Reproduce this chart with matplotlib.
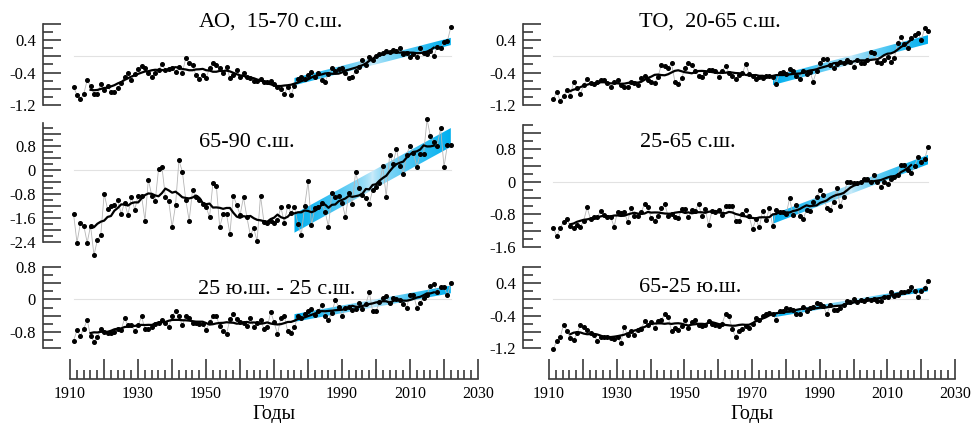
import numpy as np
import matplotlib
matplotlib.use('Agg')
import matplotlib.pyplot as plt
from matplotlib.patches import Polygon
from matplotlib.ticker import MultipleLocator, FuncFormatter

plt.rcParams['font.family'] = ['Liberation Serif', 'DejaVu Serif']

# annual anomalies 1911-2022
years = np.arange(1911, 2023)

ao_15_70 = [
    -0.76, -0.95, -1.05, -0.93, -0.58, -0.74, -0.92, -0.92, -0.68, -0.82,
    -0.73, -0.87, -0.87, -0.78, -0.66, -0.51, -0.40, -0.58, -0.43, -0.32,
    -0.24, -0.29, -0.40, -0.51, -0.40, -0.33, -0.20, -0.33, -0.32, -0.29,
    -0.38, -0.25, -0.40, -0.05, -0.16, -0.22, -0.46, -0.56, -0.46, -0.53,
    -0.29, -0.16, -0.21, -0.29, -0.42, -0.25, -0.54, -0.46, -0.33, -0.51,
    -0.40, -0.50, -0.54, -0.60, -0.60, -0.56, -0.64, -0.64, -0.60, -0.68,
    -0.76, -0.80, -0.93, -0.76, -0.95, -0.72, -0.56, -0.51, -0.56, -0.46,
    -0.38, -0.51, -0.40, -0.58, -0.62, -0.43, -0.29, -0.35, -0.32, -0.29,
    -0.40, -0.54, -0.51, -0.35, -0.25, -0.09, -0.21, -0.01, -0.09, 0.00,
    0.06, 0.09, 0.14, 0.11, 0.16, 0.14, 0.20, 0.07, 0.09, -0.02,
    0.06, -0.02, 0.20, 0.09, 0.06, 0.14, 0.00, 0.24, 0.20, 0.36,
    0.38, 0.72]

ao_65_90 = [
    -1.48, -2.42, -1.78, -1.86, -2.42, -1.86, -2.84, -2.33, -2.17, -0.80,
    -1.31, -1.20, -1.17, -1.02, -1.47, -1.09, -1.50, -0.91, -1.33, -0.86,
    -0.86, -1.69, -0.33, -0.86, -1.05, 0.02, 0.09, -0.89, -1.05, -1.91,
    -1.17, 0.31, -0.06, -0.99, -1.69, -0.69, -0.91, -1.02, -1.13, -1.23,
    -1.58, -0.44, -0.53, -1.91, -1.47, -1.47, -2.13, -0.86, -1.17, -1.50,
    -0.91, -1.58, -2.17, -1.95, -2.36, -0.86, -1.73, -1.78, -1.69, -1.78,
    -1.67, -1.24, -1.76, -1.20, -1.44, -1.24, -1.80, -2.17, -1.20, -0.39,
    -1.83, -1.28, -1.24, -1.09, -1.39, -1.89, -0.76, -0.89, -0.87, -1.09,
    -1.58, -0.76, -1.13, -0.06, -0.61, -0.85, -0.94, -1.13, -0.67, -0.56,
    -0.44, 0.11, -0.91, 0.50, 0.20, 0.69, 0.13, -0.13, 0.50, 0.80,
    0.56, 0.09, 0.53, 0.53, 1.67, 1.11, 0.91, 0.80, 1.39, 0.09,
    0.83, 0.83]

ao_25s_25n = [
    -1.02, -0.76, -0.90, -0.72, -0.51, -0.91, -1.04, -0.94, -0.72, -0.80,
    -0.82, -0.82, -0.80, -0.72, -0.75, -0.47, -0.64, -0.64, -0.78, -0.64,
    -0.42, -0.73, -0.73, -0.67, -0.61, -0.59, -0.51, -0.59, -0.67, -0.41,
    -0.29, -0.41, -0.64, -0.41, -0.45, -0.59, -0.59, -0.61, -0.61, -0.75,
    -0.56, -0.42, -0.42, -0.65, -0.78, -0.86, -0.49, -0.37, -0.49, -0.57,
    -0.59, -0.65, -0.47, -0.67, -0.59, -0.51, -0.72, -0.69, -0.31, -0.56,
    -0.86, -0.45, -0.42, -0.78, -0.82, -0.69, -0.42, -0.45, -0.37, -0.29,
    -0.24, -0.39, -0.29, -0.15, -0.41, -0.51, -0.33, -0.02, -0.18, -0.41,
    -0.20, -0.18, -0.26, -0.23, -0.08, -0.23, -0.12, 0.18, -0.29, -0.29,
    -0.07, 0.04, 0.08, -0.08, 0.04, 0.02, -0.02, -0.12, -0.20, 0.12,
    0.12, -0.20, -0.08, 0.04, 0.12, 0.34, 0.39, 0.18, 0.31, 0.31,
    0.10, 0.40]

po_20_65 = [
    -1.05, -0.88, -1.09, -0.99, -0.82, -0.97, -0.64, -0.78, -0.93, -0.70,
    -0.56, -0.66, -0.68, -0.62, -0.58, -0.58, -0.66, -0.76, -0.64, -0.58,
    -0.70, -0.76, -0.76, -0.64, -0.66, -0.70, -0.54, -0.48, -0.58, -0.64,
    -0.66, -0.50, -0.21, -0.24, -0.29, -0.17, -0.62, -0.68, -0.54, -0.29,
    -0.17, -0.21, -0.35, -0.48, -0.50, -0.42, -0.33, -0.33, -0.35, -0.51,
    -0.35, -0.24, -0.40, -0.48, -0.56, -0.46, -0.42, -0.19, -0.43, -0.48,
    -0.56, -0.51, -0.54, -0.48, -0.48, -0.51, -0.68, -0.40, -0.38, -0.43,
    -0.32, -0.35, -0.48, -0.56, -0.35, -0.43, -0.38, -0.62, -0.35, -0.17,
    -0.07, -0.07, -0.21, -0.29, -0.19, -0.13, -0.16, -0.09, -0.13, -0.25,
    -0.09, -0.17, -0.17, -0.09, 0.11, 0.09, -0.13, -0.16, -0.09, -0.01,
    -0.13, -0.05, 0.33, 0.47, 0.30, 0.20, 0.45, 0.52, 0.58, 0.40,
    0.69, 0.63]

po_25_65 = [
    -1.14, -1.33, -1.14, -0.98, -0.92, -1.08, -1.14, -1.06, -1.10, -0.95,
    -0.62, -0.92, -0.87, -0.87, -0.71, -0.81, -0.87, -0.87, -1.10, -0.73,
    -0.77, -0.73, -0.98, -0.65, -0.84, -0.85, -0.75, -0.54, -0.61, -0.89,
    -0.95, -0.84, -0.65, -0.54, -0.84, -0.79, -0.87, -0.89, -0.67, -0.67,
    -0.87, -0.69, -0.71, -0.54, -0.85, -0.67, -1.06, -0.71, -0.75, -0.69,
    -0.81, -0.59, -0.59, -0.59, -0.95, -0.95, -0.79, -0.69, -0.85, -1.16,
    -0.92, -1.12, -0.71, -0.94, -0.65, -1.09, -0.69, -0.73, -0.73, -0.79,
    -0.40, -0.82, -0.57, -0.84, -0.92, -0.68, -0.71, -0.49, -0.38, -0.20,
    -0.32, -0.64, -0.68, -0.49, -0.16, -0.59, -0.36, -0.01, -0.01, -0.03,
    -0.02, 0.01, 0.07, 0.07, 0.01, 0.17, 0.01, -0.13, 0.00, -0.05,
    0.06, 0.13, 0.16, 0.42, 0.42, 0.30, 0.22, 0.38, 0.61, 0.50,
    0.56, 0.86]

po_65s_25s = [
    -1.23, -1.02, -0.94, -0.63, -0.77, -0.96, -1.01, -0.84, -0.63, -0.67,
    -0.75, -0.82, -0.88, -1.02, -0.94, -0.94, -0.92, -0.96, -0.99, -0.94,
    -1.07, -0.69, -0.88, -0.77, -0.88, -0.75, -0.74, -0.54, -0.63, -0.57,
    -0.71, -0.54, -0.50, -0.37, -0.43, -0.77, -0.71, -0.75, -0.65, -0.52,
    -0.71, -0.57, -0.50, -0.63, -0.65, -0.63, -0.54, -0.60, -0.63, -0.65,
    -0.60, -0.35, -0.40, -0.74, -0.92, -0.77, -0.74, -0.65, -0.71, -0.60,
    -0.46, -0.50, -0.42, -0.37, -0.33, -0.37, -0.50, -0.29, -0.29, -0.21,
    -0.23, -0.25, -0.35, -0.37, -0.18, -0.29, -0.21, -0.18, -0.10, -0.12,
    -0.16, -0.37, -0.15, -0.25, -0.25, -0.21, -0.15, -0.04, -0.06, 0.00,
    -0.06, -0.01, -0.04, 0.00, -0.01, 0.02, -0.04, -0.04, 0.05, 0.07,
    0.19, 0.09, 0.11, 0.19, 0.19, 0.21, 0.30, 0.21, 0.05, 0.21,
    0.27, 0.45]

series = [ao_15_70, ao_65_90, ao_25s_25n, po_20_65, po_25_65, po_65s_25s]
titles = ['АО,  15-70 с.ш.', '65-90 с.ш.', '25 ю.ш. - 25 с.ш.',
          'ТО,  20-65 с.ш.', '25-65 с.ш.', '65-25 ю.ш.']
ylims = [(-1.2, 0.8), (-2.4, 1.55), (-1.2, 0.8),
         (-1.2, 0.8), (-1.6, 1.4), (-1.2, 0.8)]
ylabels = [[0.4, -0.4, -1.2], [0.8, 0, -0.8, -1.6, -2.4], [0.8, 0, -0.8],
           [0.4, -0.4, -1.2], [0.8, 0, -0.8, -1.6], [0.4, -0.4, -1.2]]
trend_start = 1976

# layout in pixels of the 973x423 picture
W, H = 973, 423
cols = [(43, 478), (523, 955)]        # left spine .. year 2030
rows = [[(24, 105), (123, 242), (267, 348)],
        [(24, 105), (125, 247), (267, 348)]]
title_xy = [(271, 22), (247, 142), (277, 289), (710, 22), (688, 142), (690, 288)]
xaxis_px = [(70, 478), (549, 955)]
axis_color = '#3a3a3a'
cyan = np.array([0.0, 0.69, 0.94])
pale = np.array([0.82, 0.93, 0.98])


def px_rect(x0, y0, x1, y1):
    return [x0 / W, 1 - y1 / H, (x1 - x0) / W, (y1 - y0) / H]


def tick_text(val, labs):
    if not any(abs(val - l) < 1e-6 for l in labs):
        return ''
    return '0' if abs(val) < 1e-6 else '%g' % round(val, 1)


def trend_band(ax, x, y):
    m = x >= trend_start
    k, b = np.polyfit(x[m], y[m], 1)
    half = 0.7 * np.std(y[m] - (k * x[m] + b))
    x0, x1 = x[m][0], x[m][-1]
    verts = [(x0, k * x0 + b - half), (x1, k * x1 + b - half),
             (x1, k * x1 + b + half), (x0, k * x0 + b + half)]
    poly = Polygon(verts, closed=True, facecolor='none', edgecolor='none')
    ax.add_patch(poly)
    t = np.linspace(0, 1, 256)
    w = np.abs(2 * t - 1) ** 0.6
    img = (pale[None, :] * (1 - w[:, None]) + cyan[None, :] * w[:, None])[None, :, :]
    ys = [v[1] for v in verts]
    im = ax.imshow(img, extent=[x0, x1, min(ys), max(ys)], aspect='auto',
                   origin='lower', zorder=1, interpolation='bilinear')
    im.set_clip_path(poly)


fig = plt.figure(figsize=(W / 100, H / 100), dpi=100)

for i, vals in enumerate(series):
    c, r = divmod(i, 3)
    x0, x1 = cols[c]
    y0, y1 = rows[c][r]
    ax = fig.add_axes(px_rect(x0, y0, x1, y1))
    ax.patch.set_alpha(0)
    v = np.array(vals)

    ax.plot([years[0], years[-1]], [0, 0], color='#e2e2e2', lw=0.8, zorder=0.5)
    trend_band(ax, years, v)
    ax.plot(years, v, color='#b5b5b5', lw=0.6, zorder=2, clip_on=False)
    ax.plot(years, v, 'o', color='black', ms=2.6, zorder=3, clip_on=False)
    smooth = np.convolve(v, np.ones(11) / 11, mode='valid')
    ax.plot(years[5:-5], smooth, color='black', lw=1.6, zorder=4)

    ax.set_xlim(1902, 2030)
    ax.set_ylim(*ylims[i])
    for s in ['top', 'right', 'bottom']:
        ax.spines[s].set_visible(False)
    ax.spines['left'].set_color(axis_color)
    ax.spines['left'].set_linewidth(1.2)
    ax.set_xticks([])
    ax.yaxis.set_major_locator(MultipleLocator(0.4))
    ax.yaxis.set_minor_locator(MultipleLocator(0.2))
    ax.yaxis.set_major_formatter(FuncFormatter(
        lambda val, pos, labs=ylabels[i]: tick_text(val, labs)))
    ax.tick_params(axis='y', which='major', direction='in', length=13, width=1.2,
                   color=axis_color, labelsize=12, pad=5)
    ax.tick_params(axis='y', which='minor', direction='in', length=7, width=1.2,
                   color=axis_color)

    tx, ty = title_xy[i]
    fig.text(tx / W, 1 - ty / H, titles[i], ha='center', va='center', fontsize=16)

# separate year axes below each column
for c in range(2):
    xa0, xa1 = xaxis_px[c]
    axx = fig.add_axes(px_rect(xa0, 359, xa1, 379))
    axx.patch.set_alpha(0)
    axx.set_xlim(1910, 2030)
    axx.set_yticks([])
    for s in ['top', 'right', 'left']:
        axx.spines[s].set_visible(False)
    axx.spines['bottom'].set_color(axis_color)
    axx.spines['bottom'].set_linewidth(1.2)
    axx.xaxis.set_major_locator(MultipleLocator(10))
    axx.xaxis.set_minor_locator(MultipleLocator(2))
    axx.xaxis.set_major_formatter(FuncFormatter(
        lambda val, pos: str(int(round(val))) if int(round(val)) % 20 == 10 else ''))
    axx.tick_params(axis='x', which='major', direction='in', length=14.5, width=1.2,
                    color=axis_color, labelsize=11.5, pad=5)
    axx.tick_params(axis='x', which='minor', direction='in', length=6.5, width=1.2,
                    color=axis_color)
    axx.set_xlabel('Годы', fontsize=14.5, labelpad=2)

fig.savefig('out.png', dpi=100)
